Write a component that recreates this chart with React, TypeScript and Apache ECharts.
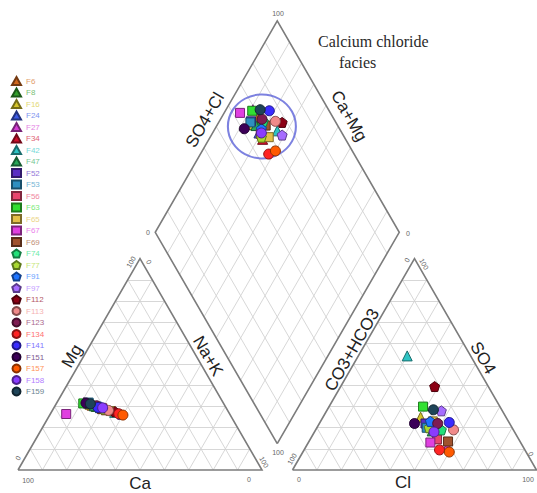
import React, { useEffect, useRef } from "react";
import * as echarts from "echarts";

// ---------------- data ----------------
const samples = ["F6","F8","F16","F24","F27","F34","F42","F47","F52","F53","F56","F63","F65","F67","F69","F74","F77","F91","F97","F112","F113","F123","F134","F141","F151","F157","F158","F159"];
const shapes = ["triangle","triangle","triangle","triangle","triangle","triangle","triangle","triangle","rect","rect","rect","rect","rect","rect","rect","pentagon","pentagon","pentagon","pentagon","pentagon","circle","circle","circle","circle","circle","circle","circle","circle"];
const colors = ["#d2691e","#33a02c","#d4c42a","#3d5ce6","#d63ed6","#d0102c","#2ec4c4","#2aa85a","#5a2fc4","#2e8fc0","#e8466e","#32e032","#e2c048","#e040e0","#a0522d","#22e07a","#a8d830","#1e74ff","#a66cff","#8b0014","#f08a8a","#7e1c52","#ff2424","#3a2cff","#3c0058","#ff5a00","#8a3cff","#1e4458"];
// cations (%)
const ca  = [54.3,52.9,54.9,51.5,57.0,49.5,46.7,53.6,55.6,55.1,50.8,57.5,48.1,67.0,51.2,52.2,50.2,51.1,44.7,46.4,48.8,52.6,45.4,52.4,56.3,44.0,50.6,54.7];
const mg  = [30.7,30.1,31.1,29.5,32.0,28.5,27.3,30.4,31.4,31.9,29.2,31.5,27.9,26.5,28.8,29.8,28.8,29.9,26.3,27.6,28.2,30.4,26.6,29.6,31.7,26.0,29.4,31.3];
const naK = [15,17,14,19,11,22,26,16,13,13,20,11,24,6.5,20,18,21,19,29,26,23,17,28,18,12,30,20,14];
// anions (%)
const cl   = [48,49,40,45,58,51,20,48,43.5,45,52,38.5,46,50,57,51.5,46,45,47,38.5,56.5,48.5,55.5,53,39,60,49,43.5];
const so4  = [21,20,25,21,11,15,54,18.5,22,20,14.5,30,23,13,13.5,19,20,23,28,39.5,19,22,9.5,22.5,22,8.5,18,28.5];
const hco3 = [31,31,35,34,31,34,26,33.5,34.5,35,33.5,31.5,31,37,29.5,29.5,34,32,25,22,24.5,29.5,35,24.5,39,31.5,33,28];

// ---------------- geometry ----------------
const GAP = 0.125;
const H = Math.sqrt(3) / 2;
const PX = 244;
const OX = 18;
const OY = 470;
const W = 537;
const HT = 493;

type P = [number, number];
const add = (a: P, b: P, k = 1): P => [a[0] + b[0] * k, a[1] + b[1] * k];
const lerp = (a: P, b: P, f: number): P => [a[0] + (b[0] - a[0]) * f, a[1] + (b[1] - a[1]) * f];

const triL: P[] = [[0, 0], [1, 0], [0.5, H]];
const triR: P[] = [[1 + GAP, 0], [2 + GAP, 0], [1.5 + GAP, H]];
const B: P = [1 + GAP / 2, H * GAP];
const dU: P = [-0.5, H];
const dV: P = [0.5, H];
const diaV: P[] = [B, add(B, dU), add(add(B, dU), dV), add(B, dV)];

function catPt(i: number): P {
  const s = ca[i] + mg[i] + naK[i];
  const m = mg[i] / s, n = naK[i] / s;
  return [n + m / 2, H * m];
}
function anPt(i: number): P {
  const s = cl[i] + so4[i] + hco3[i];
  const c = cl[i] / s, so = so4[i] / s;
  return [1 + GAP + c + so / 2, H * so];
}
function diaPt(i: number): P {
  const c = (ca[i] + mg[i]) / (ca[i] + mg[i] + naK[i]);
  const s = (cl[i] + so4[i]) / (cl[i] + so4[i] + hco3[i]);
  return [B[0] + 0.5 * (s - c), B[1] + H * (c + s)];
}

function triGrid(V: P[]) {
  const out: any[] = [];
  for (let k = 0; k < 3; k++) {
    const a = V[k], b = V[(k + 1) % 3], c = V[(k + 2) % 3];
    for (let j = 1; j <= 9; j++) {
      const f = j / 10;
      out.push({ coords: [lerp(b, a, f), lerp(c, a, f)] });
    }
  }
  return out;
}
function diaGrid() {
  const out: any[] = [];
  for (let j = 1; j <= 9; j++) {
    const f = j / 10;
    const p1 = add(B, dU, f);
    out.push({ coords: [p1, add(p1, dV)] });
    const p2 = add(B, dV, f);
    out.push({ coords: [p2, add(p2, dU)] });
  }
  return out;
}

function mix(hex: string, target: number, k: number) {
  const n = parseInt(hex.slice(1), 16);
  const r = (n >> 16) & 255, g = (n >> 8) & 255, b = n & 255;
  const f = (v: number) => Math.round(v + (target - v) * k);
  return `rgb(${f(r)},${f(g)},${f(b)})`;
}

const PENT = "path://M0,-10 L9.51,-3.09 L5.88,8.09 L-5.88,8.09 L-9.51,-3.09 Z";
const sym = (s: string) => (s === "pentagon" ? PENT : s);

function txt(text: string, x: number, y: number, rotDeg: number, size: number, fill: string, family = "Liberation Sans, Arial, sans-serif", align = "center") {
  return {
    type: "text",
    x, y,
    rotation: (rotDeg * Math.PI) / 180,
    silent: true,
    z: 10,
    style: {
      text,
      fill,
      font: `${size}px ${family}`,
      textAlign: align,
      textVerticalAlign: "middle",
      align,
      verticalAlign: "middle",
    },
  };
}

export default function App() {
  const ref = useRef<HTMLDivElement>(null);
  useEffect(() => {
    document.body.style.margin = "0";
    const chart = echarts.init(ref.current!, undefined, { renderer: "svg" });

    const dia = samples.map((_, i) => diaPt(i));
    const cx = dia.reduce((s, p) => s + p[0], 0) / dia.length;
    const cy = dia.reduce((s, p) => s + p[1], 0) / dia.length;

    const gridColor = "#d2d2d2";
    const outline = "#7c7c7c";
    const tick = "#666";
    const axisC = "#222";

    const series: any[] = [
      {
        type: "lines", coordinateSystem: "cartesian2d", silent: true, z: 1,
        lineStyle: { color: gridColor, width: 0.9, opacity: 1 },
        data: [...triGrid(triL), ...triGrid(triR), ...diaGrid()],
      },
      {
        type: "lines", coordinateSystem: "cartesian2d", polyline: true, silent: true, z: 2,
        lineStyle: { color: outline, width: 1.6, opacity: 1 },
        data: [
          { coords: [...triL, triL[0]] },
          { coords: [...triR, triR[0]] },
          { coords: [...diaV, diaV[0]] },
        ],
      },
      {
        type: "scatter", name: "_ring", silent: true, z: 3,
        symbol: "circle", symbolSize: [68, 64],
        itemStyle: { color: "rgba(0,0,0,0)", borderColor: "#5d63d8", borderWidth: 2 },
        data: [[cx, cy]],
      },
    ];
    samples.forEach((name, i) => {
      series.push({
        type: "scatter",
        name,
        symbol: sym(shapes[i]),
        symbolSize: shapes[i] === "triangle" ? 10 : shapes[i] === "rect" ? 9 : 10,
        z: 5,
        itemStyle: { color: colors[i], borderColor: mix(colors[i], 0, 0.45), borderWidth: 1, opacity: 1 },
        data: [catPt(i), anPt(i), diaPt(i)],
      });
    });

    const graphic: any[] = [
      // title
      txt("Calcium chloride", 318, 41, 0, 16, "#2a2a2a", "Liberation Serif, Times New Roman, serif", "left"),
      txt("facies", 339, 62, 0, 16, "#2a2a2a", "Liberation Serif, Times New Roman, serif", "left"),
      // axis names
      txt("Mg", 72, 356, 60, 17, axisC),
      txt("Na+K", 208, 356, -60, 17, axisC),
      txt("Ca", 140, 483, 0, 17, axisC),
      txt("CO3+HCO3", 352, 350, 60, 17, axisC),
      txt("SO4", 483, 358, -60, 17, axisC),
      txt("Cl", 403, 482, 0, 17, axisC),
      txt("SO4+Cl", 205, 120, 60, 17, axisC),
      txt("Ca+Mg", 349, 116, -60, 17, axisC),
      // corner ticks, left triangle
      txt("100", 131, 262, 60, 7, tick),
      txt("0", 149, 262, -60, 7, tick),
      txt("0", 18, 458, 60, 7, tick),
      txt("100", 28, 480, 0, 7, tick),
      txt("0", 249, 479, 0, 7, tick),
      txt("100", 264, 462, -60, 7, tick),
      // right triangle
      txt("0", 407, 260, 60, 7, tick),
      txt("100", 424, 264, -60, 7, tick),
      txt("100", 292, 459, 60, 7, tick),
      txt("0", 299, 479, 0, 7, tick),
      txt("100", 528, 479, 0, 7, tick),
      txt("0", 531, 454, -60, 7, tick),
      // diamond
      txt("100", 278, 13, 0, 7, tick),
      txt("0", 148, 232, 0, 7, tick),
      txt("0", 408, 233, 0, 7, tick),
      txt("100", 278, 452, 0, 7, tick),
    ];

    chart.setOption({
      animation: false,
      grid: { left: 0, right: 0, top: 0, bottom: 0 },
      xAxis: { type: "value", min: -OX / PX, max: (W - OX) / PX, show: false },
      yAxis: { type: "value", min: -(HT - OY) / PX, max: OY / PX, show: false },
      legend: {
        orient: "vertical",
        left: 11,
        top: 76,
        padding: 0,
        itemWidth: 9,
        itemHeight: 8,
        itemGap: 1.5,
        selectedMode: false,
        textStyle: { fontSize: 8, lineHeight: 8, fontFamily: "Liberation Sans, Arial, sans-serif" },
        data: samples.map((n, i) => ({
          name: n,
          icon: sym(shapes[i]),
          textStyle: { color: mix(colors[i], 255, 0.35) },
        })),
      },
      graphic,
      series,
    });
    return () => chart.dispose();
  }, []);
  return <div ref={ref} style={{ width: W, height: HT }} />;
}
